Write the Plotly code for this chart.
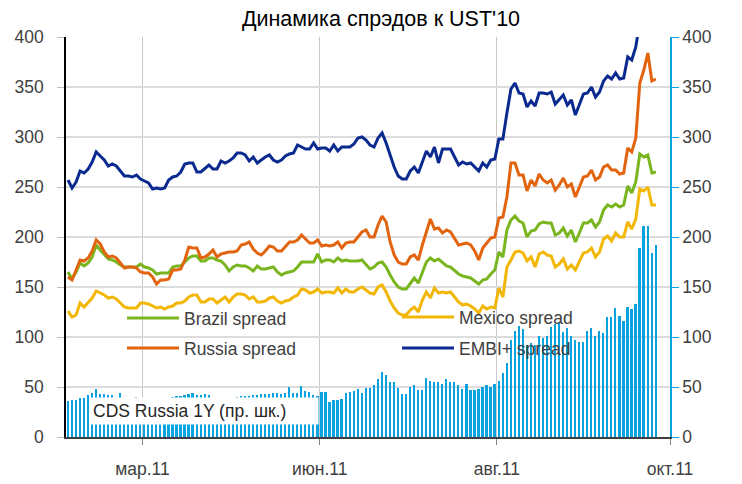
import plotly.graph_objects as go

# ---------------- data ----------------
tick_positions = [18.5, 62.5, 106.5, 149.5]
tick_labels = ["мар.11", "июн.11", "авг.11", "окт.11"]

embi = [257,249,255,266,264,268,275,285,281,277, 271,273,271,266,261,261,260,262,258,256,
        254,248,249,248,249,257,260,261,265,273, 274,274,265,265,269,272,268,268,276,274,
        276,279,284,284,282,276,280,274,277,280, 282,277,275,277,281,283,284,292,290,288,
        288,294,288,289,289,286,292,286,290,290, 290,293,299,
        300,297,292,290,299,304,294,281,270,261, 258,258,266,270,264,275,286,280,290,274,
        288,288,288,280,272,275,273,274,270,266, 274,270,277,278,298,298,324,348,354,344,
        343,330,336,331,344,344,343,345,333,337, 342,332,337,322,333,343,344,350,340,345,
        356,361,358,364,358,359,380,377,390,
        415,430,445,425,428]

russia = [160,157,167,177,176,179,186,197,193,185, 180,181,179,174,169,170,170,169,165,164,
          164,160,153,157,157,158,167,167,168,177, 190,189,189,179,180,183,187,180,183,184,
          185,185,186,192,193,195,188,184,182,186, 191,190,186,186,190,195,195,197,202,198,
          194,194,197,191,192,191,192,195,189,194, 195,195,200,
          205,207,200,200,212,221,215,195,182,175, 173,173,180,182,177,192,205,218,208,209,
          204,207,205,199,192,193,194,192,186,177, 189,194,199,200,219,220,
          240,
          274,274,262,262,246,257,251,263,257,254, 257,247,252,259,250,253,240,250,260,261,
          267,257,260,270,272,267,267,263,264,289, 285,299,354,367,384,356,358]

brazil = [165,158,165,174,171,174,180,192,187,182, 178,177,175,172,170,170,170,170,173,170,
          169,167,163,164,164,164,170,171,171,175, 179,181,181,176,176,179,179,177,176,172,
          166,170,172,171,171,169,166,171,168,168, 169,170,165,162,164,165,166,170,175,175,
          175,175,183,175,177,177,175,179,176,177, 176,176,176,
          177,172,168,170,174,175,170,162,155,150, 148,148,154,159,154,164,175,179,176,178,
          174,171,170,166,163,161,160,159,156,153, 157,158,163,167,185,180,207,217,221,216,
          214,200,206,207,213,215,214,214,202,204, 209,201,207,195,204,214,214,217,210,215,
          227,232,230,233,230,232,251,244,255,283, 280,282,264,265]

mexico = [126,120,122,134,130,134,139,146,144,142, 139,140,138,134,130,129,129,129,134,134,
          133,131,129,130,128,130,131,134,134,136, 140,142,142,135,135,138,138,134,137,140,
          135,140,143,143,142,138,140,135,135,136, 139,140,136,134,136,137,140,142,148,147,
          144,145,148,144,145,145,144,149,144,148, 145,145,148,
          150,147,144,143,150,152,145,136,129,124, 122,122,127,130,125,137,145,139,149,144,
          145,144,145,140,135,132,133,131,128,124, 131,128,130,129,149,140,170,177,185,186,
          184,176,180,170,183,185,182,181,170,173, 178,168,172,167,176,184,185,189,180,185,
          198,201,196,204,200,200,215,208,218,248, 246,250,232,232]

cds_russia_1y = [36,37,37,39,39,42,44,48,43,43, 42,42,38,44,35,38,38,40,34,33,
                 32,32,31,32,33,36,40,41,41,42, 43,44,42,42,43,42,39,34,33,34,
                 36,38,40,41,41,41,42,42,43,43, 43,
                 44,44,43,44,50,44,44,51,46,45, 42,41,45,45,35,37,37,38,44,45,
                 46,48,44,49,49,52,58,65,62,55, 55,49,43,43,50,52,47,47,59,56,
                 55,55,53,58,55,55,52,48,53,47, 47,48,50,52,
                 50,53,56,64,74,97,106,111,108,92, 94,92,101,99,101,110,113,115,105,109,
                 101,97,95,95,106,109,101,106,104,120, 120,129,121,116,130,128,133,189,211,211,
                 184,192]

idx = list(range(len(cds_russia_1y)))

FONT = "Liberation Sans, Arial, sans-serif"
TXT = "#404040"

fig = go.Figure()

fig.add_trace(go.Bar(x=idx, y=cds_russia_1y, yaxis="y", width=0.42,
                     marker=dict(color="#0AA3E0", line=dict(width=0)),
                     name="CDS Russia 1Y (пр. шк.)", showlegend=False))

series = [
    ("Brazil spread", brazil, "#78B51E", "legend"),
    ("Mexico spread", mexico, "#F2B705", "legend2"),
    ("Russia spread", russia, "#E2640F", "legend3"),
    ("EMBI+ spread", embi, "#0A2A8F", "legend4"),
]
for name, vals, col, lg in series:
    fig.add_trace(go.Scatter(x=idx[:len(vals)], y=vals, yaxis="y2", mode="lines",
                             line=dict(color=col, width=3), name=name, legend=lg))

def legend_box(xpix, ypix):
    return dict(x=(xpix - 66) / 604, y=(437 - ypix) / 400, xanchor="left", yanchor="middle",
                bgcolor="rgba(0,0,0,0)", borderwidth=0, itemwidth=52,
                font=dict(family=FONT, size=17.5, color=TXT))

fig.update_layout(
    width=742, height=484,
    margin=dict(l=66, r=72, t=37, b=47, autoexpand=False),
    paper_bgcolor="white", plot_bgcolor="white",
    bargap=0,
    title=dict(text="Динамика спрэдов к UST'10", x=381 / 742, xref="container", xanchor="center",
               y=1 - 18 / 484, yref="container", yanchor="middle",
               font=dict(family=FONT, size=21.5, color="#000000")),
    xaxis=dict(range=[-0.5, 149.5], tickmode="array", tickvals=tick_positions, ticktext=tick_labels,
               ticks="outside", ticklen=6, tickcolor="#808080", showgrid=True, gridcolor="#C8C8C8",
               gridwidth=1, showline=True, linecolor="#404040", linewidth=1.5, zeroline=False,
               automargin=False, ticklabelstandoff=9,
               tickfont=dict(family=FONT, size=17.5, color=TXT)),
    yaxis=dict(range=[0, 400], dtick=50, side="right", ticks="outside", ticklen=7,
               tickcolor="#0AA3E0", showline=True, linecolor="#0AA3E0", linewidth=1.5,
               showgrid=True, gridcolor="#DCDCDC", gridwidth=2, zeroline=False, automargin=False,
               tickfont=dict(family=FONT, size=17.5, color=TXT)),
    yaxis2=dict(range=[0, 400], dtick=50, side="left", overlaying="y", ticks="outside", ticklen=7,
                tickcolor="#C0C0C0", showline=True, linecolor="#000000", linewidth=1.5,
                showgrid=False, zeroline=False, ticklabelstandoff=10, automargin=False,
                tickfont=dict(family=FONT, size=17.5, color=TXT)),
    legend=legend_box(122, 318),
    legend2=legend_box(397, 317),
    legend3=legend_box(122, 348),
    legend4=legend_box(397, 348),
    annotations=[dict(text="CDS Russia 1Y (пр. шк.)", xref="paper", yref="y2",
                      x=(89 - 66) / 604, y=26, xanchor="left", yanchor="middle",
                      showarrow=False, bgcolor="white", borderpad=3, width=222, align="left",
                      font=dict(family=FONT, size=17.5, color="#262626"))],
)

fig.write_html("out.html", config={"displayModeBar": False},
               post_script="document.body.style.margin='0';document.body.style.overflow='hidden';")
